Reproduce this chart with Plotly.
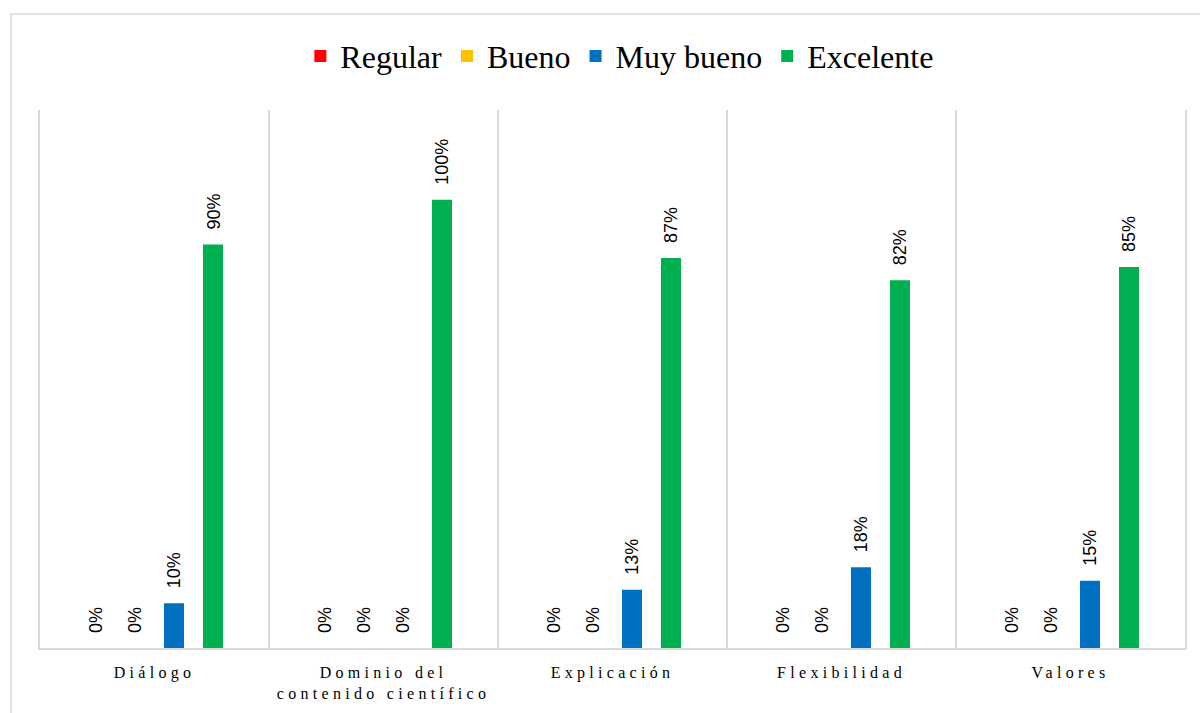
import plotly.graph_objects as go

categories = ["Diálogo", "Dominio del<br>contenido científico", "Explicación", "Flexibilidad", "Valores"]
series_names = ["Regular", "Bueno", "Muy bueno", "Excelente"]
regular = [0, 0, 0, 0, 0]
bueno = [0, 0, 0, 0, 0]
muy_bueno = [0.10, 0, 0.13, 0.18, 0.15]
excelente = [0.90, 1.00, 0.87, 0.82, 0.85]
colors = ["#FF0000", "#FFC000", "#0070C0", "#00B050"]

all_series = [regular, bueno, muy_bueno, excelente]

fig = go.Figure()
for name, vals, col in zip(series_names, all_series, colors):
    fig.add_trace(go.Bar(x=categories, y=vals, name=name, marker=dict(color=col, line=dict(width=0))))

# data labels
slot = 39
for i, vals in enumerate(all_series):
    for c, v in zip(categories, vals):
        fig.add_annotation(
            x=c, y=v, xref="x", yref="y",
            text=f"{round(v*100)}%", showarrow=False,
            textangle=-90, xanchor="center", yanchor="bottom",
            xshift=(i - 1.5) * slot, yshift=13,
            font=dict(family="Liberation Sans, Arial", size=18, color="#000000"),
        )

# outer chart border
fig.add_shape(type="rect", xref="paper", yref="paper",
              x0=-0.0253, x1=1.03, y0=-0.2, y1=1.1784,
              line=dict(color="#D9D9D9", width=1.5), fillcolor="rgba(0,0,0,0)", layer="below")

fig.update_layout(
    width=1200, height=713,
    margin=dict(l=40, r=15, t=110, b=65, autoexpand=False),
    paper_bgcolor="white", plot_bgcolor="white",
    barmode="group", bargap=0.319, bargroupgap=0.487,
    showlegend=True,
    legend=dict(orientation="h", x=0.506, xanchor="center", y=1.100, yanchor="middle",
                font=dict(family="Liberation Serif, Times New Roman", size=32, color="#000000"),
                bgcolor="rgba(0,0,0,0)"),
    xaxis=dict(
        type="category", tickson="boundaries", ticks="",
        showgrid=True, gridcolor="#D9D9D9", gridwidth=1.5,
        showline=True, linecolor="#D9D9D9", linewidth=2,
        tickfont=dict(family="Liberation Serif, Times New Roman", size=16, color="#000000"),
        ticklabelstandoff=9, automargin=False,
        range=[-0.5, 4.5],
    ),
    yaxis=dict(
        range=[0, 1.2], showgrid=False, zeroline=False, showticklabels=False, ticks="",
        showline=True, linecolor="#D9D9D9", linewidth=1.5, mirror=True, automargin=False,
    ),
    font=dict(family="Liberation Serif, Times New Roman", color="#000000"),
)

post = """
var gd = document.getElementById('{plot_id}');
function spaceTicks(){
  document.querySelectorAll('g.xtick text').forEach(function(t){ t.setAttribute('letter-spacing','4.3px'); t.style.letterSpacing='4.3px'; });
}
spaceTicks();
if (gd && gd.on) { gd.on('plotly_afterplot', spaceTicks); }
"""

fig.write_html("out.html", post_script=post)
